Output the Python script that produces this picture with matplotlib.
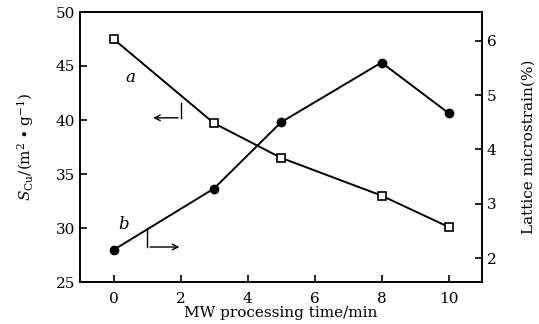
import numpy as np
import matplotlib.pyplot as plt

plt.rcParams['font.family'] = ['DejaVu Serif']
plt.rcParams['mathtext.fontset'] = 'dejavuserif'

time = [0, 3, 5, 8, 10]
area = [47.5, 39.7, 36.5, 33.0, 30.1]      # S_Cu, left axis (a)
strain = [2.15, 3.28, 4.5, 5.6, 4.67]      # lattice microstrain, right axis (b)

fig = plt.figure(figsize=(5.39, 3.24), dpi=100)
ax1 = fig.add_axes([80/539, 1 - 282/324, 402/539, 270/324])
ax2 = ax1.twinx()

ax1.plot(time, area, color="k", lw=1.4, marker="s", markersize=6,
         markerfacecolor="white", markeredgecolor="k", markeredgewidth=1.2, zorder=3)
ax2.plot(time, strain, color="k", lw=1.4, marker="o", markersize=6,
         markerfacecolor="k", zorder=3)

ax1.set_xlim(-1, 11)
ax1.set_ylim(25, 50)
ax2.set_ylim(1.56, 6.53)
ax1.set_xticks([0, 2, 4, 6, 8, 10])
ax1.set_yticks([25, 30, 35, 40, 45, 50])
ax2.set_yticks([2, 3, 4, 5, 6])

ax1.tick_params(direction="in", length=5, width=1.2, labelsize=11, top=False)
ax1.tick_params(axis="x", pad=7)
ax2.tick_params(direction="in", length=5, width=1.2, labelsize=11)
for ax in (ax1, ax2):
    for s in ax.spines.values():
        s.set_linewidth(1.2)

ax1.set_xlabel("MW processing time/min", fontsize=11, labelpad=0)
ax1.set_ylabel(r"$S_{\rm Cu}$/(m$^2$ $\bullet$ g$^{-1}$)", fontsize=11, labelpad=14)
ax2.set_ylabel("Lattice microstrain(%)", fontsize=11, labelpad=18)

ax1.text(0.5, 43.9, "a", fontsize=12, style="italic", ha="center", va="center")
ax1.text(0.3, 30.3, "b", fontsize=12, style="italic", ha="center", va="center")

# bent arrows pointing to the axis of each curve
ax1.plot([2.01, 2.01], [41.6, 40.2], color="k", lw=1)
ax1.annotate("", xy=(1.1, 40.2), xytext=(2.01, 40.2),
             arrowprops=dict(arrowstyle="->", color="k", lw=1))
ax1.plot([1.01, 1.01], [30.0, 28.24], color="k", lw=1)
ax1.annotate("", xy=(2.05, 28.24), xytext=(1.01, 28.24),
             arrowprops=dict(arrowstyle="->", color="k", lw=1))

fig.savefig("out.png", dpi=100)
